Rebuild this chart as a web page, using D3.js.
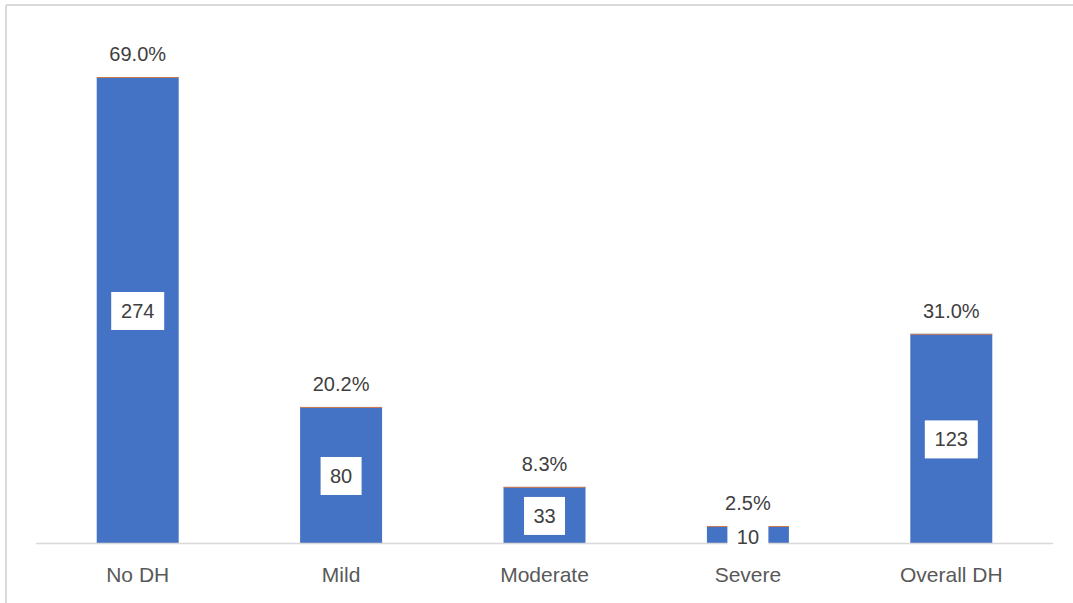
<!DOCTYPE html>
<html>
<head>
<meta charset="utf-8">
<script src="https://cdn.jsdelivr.net/npm/d3@7/dist/d3.min.js"></script>
<style>
  html, body { margin: 0; padding: 0; background: #fff; }
  svg { display: block; }
  text { font-family: "Liberation Sans", Arial, sans-serif; }
</style>
</head>
<body>
<svg id="chart" width="1073" height="603"></svg>
<script>
const categories = ["No DH", "Mild", "Moderate", "Severe", "Overall DH"];
const counts = [274, 80, 33, 10, 123];
const percents = ["69.0%", "20.2%", "8.3%", "2.5%", "31.0%"];

const W = 1073, H = 603;
const baseY = 543;
const svg = d3.select("#chart");

// chart frame (top and left edges visible)
svg.append("line").attr("x1", 6).attr("y1", 5).attr("x2", W).attr("y2", 5)
  .attr("stroke", "#d9d9d9").attr("stroke-width", 2);
svg.append("line").attr("x1", 6).attr("y1", 5).attr("x2", 6).attr("y2", H)
  .attr("stroke", "#d9d9d9").attr("stroke-width", 2);

const x = d3.scaleBand().domain(categories).range([36, 1053]).paddingInner(0.597).paddingOuter(0.2985);
const y = d3.scaleLinear().domain([0, 274]).range([baseY, 77]);

const data = categories.map((c, i) => ({ c, n: counts[i], p: percents[i] }));

// bars
svg.append("g").selectAll("rect").data(data).join("rect")
  .attr("x", d => x(d.c)).attr("width", x.bandwidth())
  .attr("y", d => y(d.n)).attr("height", d => baseY - y(d.n))
  .attr("fill", "#4472C4");

// thin orange series at top of each bar
svg.append("g").selectAll("line").data(data).join("line")
  .attr("x1", d => x(d.c)).attr("x2", d => x(d.c) + x.bandwidth())
  .attr("y1", d => y(d.n) + 0.5).attr("y2", d => y(d.n) + 0.5)
  .attr("stroke", "#ED7D31").attr("stroke-width", 1).attr("stroke-opacity", 0.8);

// x axis
const axis = d3.axisBottom(x).tickSize(0).tickPadding(0);
const gx = svg.append("g").attr("transform", `translate(0,${baseY})`).call(axis);
gx.select(".domain").attr("stroke", "#d9d9d9").attr("stroke-width", 1.5)
  .attr("d", `M36,0.5H1053`);
gx.selectAll(".tick text").attr("font-size", 21).attr("fill", "#595959")
  .attr("font-family", "Liberation Sans, Arial, sans-serif")
  .attr("dy", null).attr("y", 39);

// percent labels above bars
svg.append("g").selectAll("text").data(data).join("text")
  .attr("x", d => x(d.c) + x.bandwidth() / 2)
  .attr("y", d => y(d.n) - 16)
  .attr("text-anchor", "middle").attr("font-size", 20).attr("fill", "#404040")
  .text(d => d.p);

// count labels with white boxes
const lg = svg.append("g").selectAll("g").data(data).join("g")
  .attr("transform", d => `translate(${x(d.c) + x.bandwidth() / 2},${(y(d.n) + baseY) / 2 + (d.n < 20 ? 2.5 : 1)})`);
lg.append("rect")
  .attr("x", d => d.n >= 100 ? -26.5 : -20.5)
  .attr("width", d => d.n >= 100 ? 53 : 41)
  .attr("y", -19).attr("height", 38).attr("fill", "#fff");
lg.append("text").attr("text-anchor", "middle").attr("y", 7)
  .attr("font-size", 20).attr("fill", "#404040").text(d => d.n);
</script>
</body>
</html>
